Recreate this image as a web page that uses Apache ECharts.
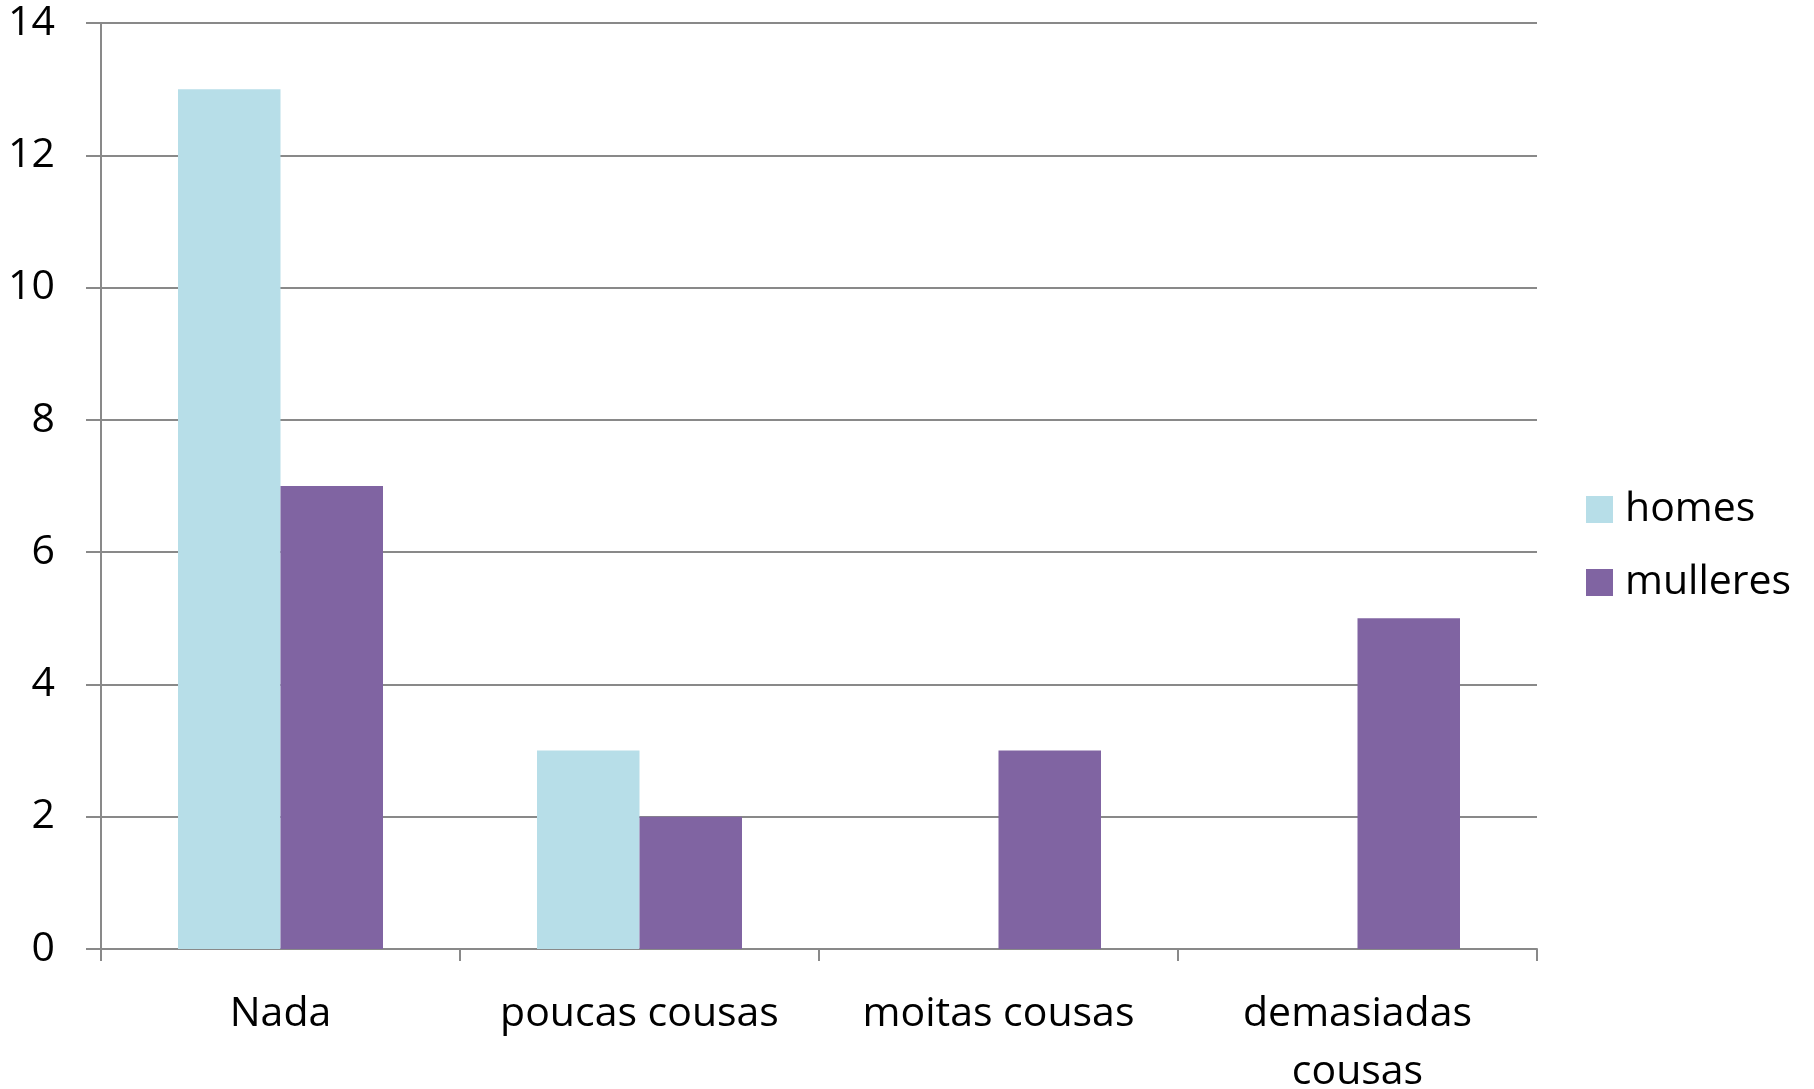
<!DOCTYPE html>
<html>
<head>
<meta charset="utf-8">
<script src="https://cdn.jsdelivr.net/npm/echarts@6/dist/echarts.min.js"></script>
<style>
  html, body { margin: 0; padding: 0; background: #fff; }
  #chart { width: 1814px; height: 1089px; }
</style>
</head>
<body>
<div id="chart"></div>
<script>
// categorias e valores
const categories = ['Nada', 'poucas cousas', 'moitas cousas', 'demasiadas\ncousas']
const homes = [13, 3, 0, 0]
const mulleres = [7, 2, 3, 5]
const yTicks = { min: 0, max: 14, interval: 2 }

const font = '"Open Sans", "Noto Sans", sans-serif'
const gridColor = '#898989'

const chart = echarts.init(document.getElementById('chart'))
chart.setOption({
  animation: false,
  backgroundColor: '#fff',
  grid: {
    left: 101,
    right: 277,
    top: 23,
    bottom: 140,
    containLabel: false,
    outerBoundsMode: 'none'
  },
  legend: {
    orient: 'vertical',
    left: 1586,
    top: 489,
    padding: 0,
    itemWidth: 27,
    itemHeight: 27,
    itemGap: 32,
    icon: 'rect',
    textStyle: {
      fontFamily: font,
      fontSize: 41,
      color: '#000',
      lineHeight: 27,
      padding: [0, 0, 0, 7]
    },
    data: ['homes', 'mulleres']
  },
  xAxis: {
    type: 'category',
    data: categories,
    axisLine: { lineStyle: { color: gridColor, width: 2 } },
    axisTick: { show: true, length: 12, lineStyle: { color: gridColor, width: 2 } },
    axisLabel: {
      fontFamily: font,
      fontSize: 41,
      color: '#000',
      margin: 36,
      lineHeight: 58,
      interval: 0
    }
  },
  yAxis: {
    type: 'value',
    min: yTicks.min,
    max: yTicks.max,
    interval: yTicks.interval,
    axisLine: { show: true, lineStyle: { color: gridColor, width: 2 } },
    axisTick: { show: true, length: 15, lineStyle: { color: gridColor, width: 2 } },
    splitLine: { show: true, lineStyle: { color: gridColor, width: 2 } },
    axisLabel: {
      fontFamily: font,
      fontSize: 41,
      color: '#000',
      margin: 46
    }
  },
  series: [
    {
      name: 'homes',
      type: 'bar',
      data: homes,
      barWidth: 102.5,
      barGap: '0%',
      itemStyle: { color: '#B7DEE8' }
    },
    {
      name: 'mulleres',
      type: 'bar',
      data: mulleres,
      barWidth: 102.5,
      barGap: '0%',
      itemStyle: { color: '#8064A2' }
    }
  ]
})
</script>
</body>
</html>
